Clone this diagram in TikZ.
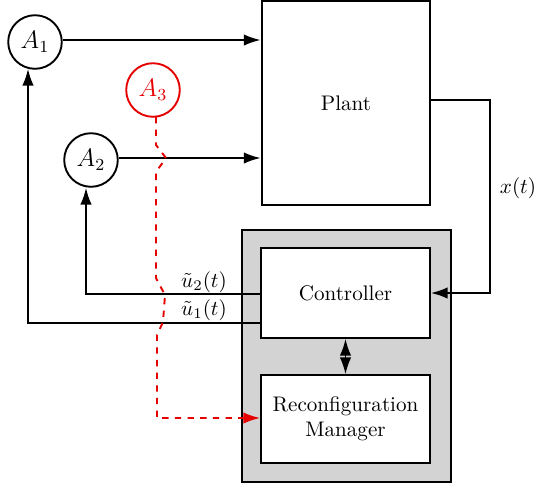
\documentclass[tikz,border=0pt]{standalone}
\usepackage{amsmath}
\usepackage{tikz}
\usetikzlibrary{arrows.meta,positioning,calc}
\definecolor{faultcol}{RGB}{230,0,0}
\definecolor{bgcol}{RGB}{211,211,211}

\begin{document}
\begin{tikzpicture}[
  x=0.474pt, y=-0.474pt,
  line width=0.9pt,
  act/.style={draw, circle, minimum size=25.4pt, inner sep=0pt, font=\large},
  blk/.style={draw, fill=white, align=center},
  flow/.style={-{Latex[length=2.8mm,width=1.9mm]}},
  fault/.style={-{Latex[length=2.8mm,width=1.9mm]}, dashed, draw=faultcol},
  lbl/.style={inner sep=1pt},
  ]
  \useasboundingbox (0,0) rectangle (538,488);
  % supervisory layer
  \draw[fill=bgcol] (242,230) rectangle (451,482);
  \node[blk, minimum width=80pt, minimum height=96.5pt] (plant) at (346,103) {Plant};
  \node[blk, minimum width=80pt, minimum height=42.5pt] (ctrl) at (345.5,293) {Controller};
  \node[blk, minimum width=80pt, minimum height=41.5pt] (rm) at (345.5,419) {Reconfiguration\\ Manager};
  % actuators
  \node[act] (a1) at (35,42) {$A_1$};
  \node[act] (a2) at (91,160) {$A_2$};
  \node[act, draw=faultcol, text=faultcol] (a3) at (153,90) {$A_3$};
  \coordinate (fb) at (490,100);
  \coordinate (u2) at (86,294);
  \coordinate (u1) at (28,323);
  \draw[flow] (a1.east |- 0,40) -- (plant.west |- 0,40);
  \draw[flow] (a2.east |- 0,158) -- (plant.west |- 0,158);
  \draw[flow] (plant.east |- fb) -- (fb) -- (fb |- ctrl.east) -- (ctrl.east);
  \draw[flow] (ctrl.west |- u2) -- (u2) -- (u2 |- a2.south);
  \draw[flow] (ctrl.west |- u1) -- (u1) -- ($(u1 |- a1.south)+(0,-1)$);
  \draw[{Latex[length=2.8mm,width=1.9mm]}-{Latex[length=2.8mm,width=1.9mm]}] (ctrl.south) -- (rm.north);
  \node[lbl] (xt) at (518,188) {$x(t)$};
  \node[lbl] (lu2) at (204,282) {$\tilde{u}_2(t)$};
  \node[lbl] (lu1) at (204,310) {$\tilde{u}_1(t)$};
  % fault path
  \draw[fault] (156,117) -- (156,145) -- (166,158) -- (156,172) -- (156,278)
    -- (165,295) -- (163,322) -- (157,335) -- (157,418) -- (rm.west |- 0,418);
\end{tikzpicture}
\end{document}
